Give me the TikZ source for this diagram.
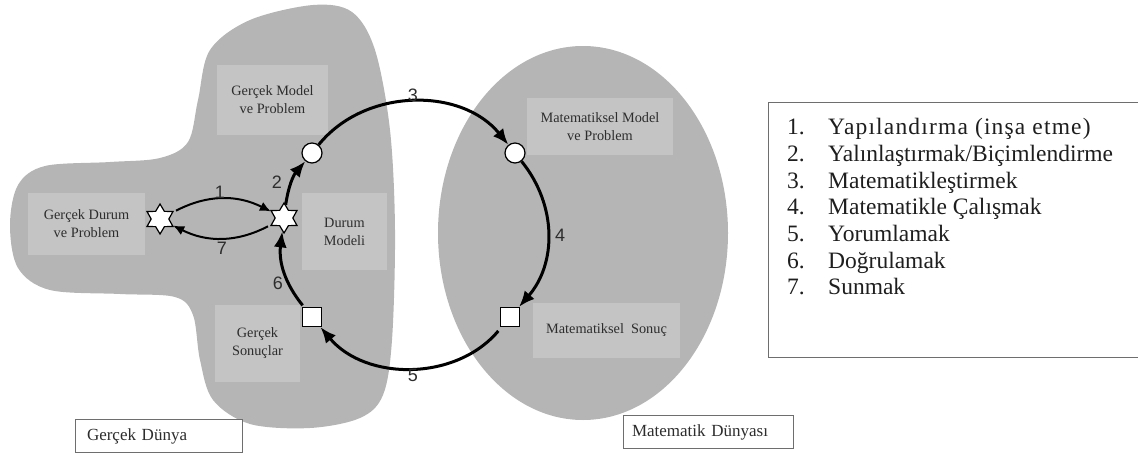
\documentclass[tikz,border=0pt]{standalone}
\usepackage{fontspec}
\setmainfont{Liberation Serif}
\newfontfamily\numfont{Liberation Sans}
\usetikzlibrary{arrows.meta,shapes.geometric}
\definecolor{worldgray}{RGB}{181,181,181}
\definecolor{panelgray}{RGB}{196,196,196}
\definecolor{labelink}{RGB}{45,45,45}
\definecolor{legendink}{RGB}{30,30,30}
\definecolor{frameink}{RGB}{110,110,110}

\begin{document}
\begin{tikzpicture}[x=1pt,y=-1pt,
  panel/.style={fill=panelgray, inner sep=0, align=center, text=labelink,
    font=\fontsize{14.3}{18}\selectfont},
  junction/.style={circle, draw, fill=white, line width=1.2pt, minimum size=20pt, inner sep=0},
  result/.style={rectangle, draw, fill=white, line width=1.2pt, minimum size=19pt, inner sep=0},
  burst/.style={star, star points=6, star point ratio=1.7, draw, fill=white,
    line width=1.2pt, minimum size=30pt, inner sep=0},
  flow/.style={line width=3pt, -{Latex[length=16pt,width=13pt]}},
  swap/.style={line width=2pt, -{Latex[length=11pt,width=10pt]}},
  stepno/.style={font=\numfont\fontsize{18}{18}\selectfont, text=labelink, inner sep=0},
  worldtag/.style={draw=frameink, line width=0.8pt, fill=white, minimum height=33pt,
    align=left, font=\fontsize{17}{17}\selectfont, text=labelink},
  legend/.style={anchor=base west, inner sep=0, text=legendink,
    font=\fontsize{23.5}{26.7}\selectfont},
]
\useasboundingbox (0,0) rectangle (1138,455);

% the real world (blob) and the mathematical world (ellipse)
\fill[worldgray] plot[smooth cycle, tension=0.55] coordinates {
  (313,5) (352,12) (375,50) (390,130) (395,230) (392,340) (383,395) (360,418)
  (310,428) (250,424) (213,400) (200,360) (193,315) (175,297) (120,294) (50,290)
  (18,268) (10,225) (18,185) (45,166) (110,162) (160,158) (188,142) (198,100)
  (210,50) (250,20)};
\fill[worldgray] (583,233) ellipse [x radius=145, y radius=187];

% labelled panels
\node[panel, minimum width=111pt, minimum height=70pt] (realmodel) at (272.5,100) {Gerçek Model\\ve Problem};
\node[panel, minimum width=117pt, minimum height=62pt] (realsit) at (86.5,224) {Gerçek Durum\\ve Problem};
\node[panel, minimum width=85pt, minimum height=77pt] (sitmodel) at (344.5,231.5) {Durum\\Modeli};
\node[panel, minimum width=85pt, minimum height=77pt] (realres) at (257.5,343.5) {Gerçek\\Sonuçlar};
\node[panel, minimum width=146pt, minimum height=57pt] (mathmodel) at (600,126.5) {Matematiksel Model\\ve Problem};
\node[panel, minimum width=147pt, minimum height=55pt] (mathres) at (606.5,330.5) {Matematiksel\ \ Sonuç};

% cycle markers
\node[burst] (sitL) at (160,219) {};
\node[burst] (sitR) at (284,218) {};
\node[junction] (modR) at (312,153) {};
\node[junction] (modM) at (515,153) {};
\node[result] (resM) at (510,317) {};
\node[result] (resR) at (312,317) {};

% modelling cycle
\draw[swap, shorten <=3pt] (sitL) to[bend left=27] (sitR);
\draw[swap, shorten <=3pt] (sitR) to[bend left=27] (sitL);
\draw[flow] (sitR) to[bend left=16] (modR);
\draw[flow] (modR) to[bend left=51] (modM);
\draw[flow] (modM) to[bend left=40] (resM);
\draw[flow, shorten <=5pt] (resM) to[bend left=50] (resR);
\draw[flow, shorten <=2pt] (resR) to[bend left=23] (sitR);

% step numbers
\node[stepno] (s1) at (220,192) {1};
\node[stepno] (s2) at (277,182) {2};
\node[stepno] (s3) at (413,95) {3};
\node[stepno] (s4) at (560,235) {4};
\node[stepno] (s5) at (413,375) {5};
\node[stepno] (s6) at (278,283) {6};
\node[stepno] (s7) at (222,248) {7};

% world captions
\node[worldtag, text width=143pt, inner xsep=12pt] (realworld) at (158.5,436) {Gerçek Dünya};
\node[worldtag, text width=152pt, inner xsep=9pt] (mathworld) at (708,432) {Matematik Dünyası};

% legend
\draw[frameink, line width=1pt] (1140,102) -- (768,102) -- (768,357) -- (1140,357);
\node[legend] (n1) at (787,134) {1.};
\node[legend] (t1) at (828,134) {\addfontfeature{LetterSpace=5}Yapılandırma (inşa etme)};
\node[legend] (n2) at (787,161) {2.};
\node[legend] (t2) at (828,161) {Yalınlaştırmak/Biçimlendirme};
\node[legend] (n3) at (787,188) {3.};
\node[legend] (t3) at (828,188) {Matematikleştirmek};
\node[legend] (n4) at (787,214) {4.};
\node[legend] (t4) at (828,214) {Matematikle Çalışmak};
\node[legend] (n5) at (787,241) {5.};
\node[legend] (t5) at (828,241) {Yorumlamak};
\node[legend] (n6) at (787,268) {6.};
\node[legend] (t6) at (828,268) {Doğrulamak};
\node[legend] (n7) at (787,294) {7.};
\node[legend] (t7) at (828,294) {Sunmak};
\end{tikzpicture}
\end{document}
